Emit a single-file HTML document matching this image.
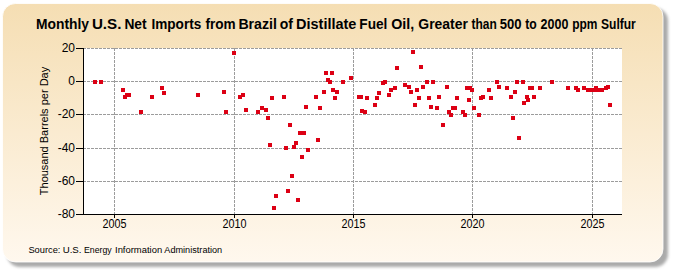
<!DOCTYPE html>
<html><head><meta charset="utf-8"><style>
html,body{margin:0;padding:0;width:675px;height:275px;overflow:hidden;background:#fff;}
svg{display:block;}
text{font-family:"Liberation Sans",sans-serif;fill:#000;}
</style></head><body>
<svg width="675" height="275" viewBox="0 0 675 275">
<defs>
<linearGradient id="bg" x1="0" y1="0" x2="0" y2="1">
<stop offset="0" stop-color="#f5deb3"/>
<stop offset="1" stop-color="#fff8ee"/>
</linearGradient>
<filter id="sh" x="-5%" y="-5%" width="115%" height="120%">
<feGaussianBlur stdDeviation="1.7"/>
</filter>
</defs>
<rect x="7" y="8" width="661" height="259" rx="13" ry="13" fill="#aaaaaa" filter="url(#sh)"/>
<rect x="2.5" y="3.5" width="660.5" height="258.5" rx="13" ry="13" fill="url(#bg)" stroke="rgba(255,255,255,0.8)" stroke-width="1"/>
<rect x="84" y="48" width="538" height="166" fill="#fff"/>
<g stroke="#9c9c9c" stroke-width="1" stroke-dasharray="3,1" fill="none"><g stroke-dashoffset="1"><line x1="84" y1="48.5" x2="622" y2="48.5"/><line x1="84" y1="81.5" x2="622" y2="81.5"/><line x1="84" y1="114.5" x2="622" y2="114.5"/><line x1="84" y1="148.5" x2="622" y2="148.5"/><line x1="84" y1="181.5" x2="622" y2="181.5"/></g><line x1="114.5" y1="48" x2="114.5" y2="214"/><line x1="234.5" y1="48" x2="234.5" y2="214"/><line x1="353.5" y1="48" x2="353.5" y2="214"/><line x1="472.5" y1="48" x2="472.5" y2="214"/><line x1="592.5" y1="48" x2="592.5" y2="214"/></g>
<g stroke="#000" stroke-width="1" fill="none">
<line x1="83.5" y1="48" x2="83.5" y2="215"/>
<line x1="83" y1="214.5" x2="622" y2="214.5"/>
<line x1="76" y1="48.5" x2="83" y2="48.5"/><line x1="76" y1="81.5" x2="83" y2="81.5"/><line x1="76" y1="114.5" x2="83" y2="114.5"/><line x1="76" y1="148.5" x2="83" y2="148.5"/><line x1="76" y1="181.5" x2="83" y2="181.5"/><line x1="76" y1="214.5" x2="83" y2="214.5"/><line x1="114.5" y1="214" x2="114.5" y2="218"/><line x1="234.5" y1="214" x2="234.5" y2="218"/><line x1="353.5" y1="214" x2="353.5" y2="218"/><line x1="472.5" y1="214" x2="472.5" y2="218"/><line x1="592.5" y1="214" x2="592.5" y2="218"/>
</g>
<g fill="#dc0014"><rect x="93" y="80" width="4" height="4"/><rect x="99" y="80" width="4" height="4"/><rect x="121" y="88" width="4" height="4"/><rect x="123" y="95" width="4" height="4"/><rect x="125" y="93" width="4" height="4"/><rect x="127" y="93" width="4" height="4"/><rect x="139" y="110" width="4" height="4"/><rect x="150" y="95" width="4" height="4"/><rect x="160" y="86" width="4" height="4"/><rect x="162" y="91" width="4" height="4"/><rect x="196" y="93" width="4" height="4"/><rect x="222" y="90" width="4" height="4"/><rect x="224" y="110" width="4" height="4"/><rect x="232" y="51" width="4" height="4"/><rect x="238" y="95" width="4" height="4"/><rect x="241" y="93" width="4" height="4"/><rect x="244" y="108" width="4" height="4"/><rect x="256" y="110" width="4" height="4"/><rect x="260" y="106" width="4" height="4"/><rect x="264" y="108" width="4" height="4"/><rect x="266" y="116" width="4" height="4"/><rect x="270" y="96" width="4" height="4"/><rect x="282" y="95" width="4" height="4"/><rect x="268" y="143" width="4" height="4"/><rect x="272" y="206" width="4" height="4"/><rect x="274" y="194" width="4" height="4"/><rect x="284" y="146" width="4" height="4"/><rect x="286" y="189" width="4" height="4"/><rect x="288" y="123" width="4" height="4"/><rect x="290" y="174" width="4" height="4"/><rect x="292" y="145" width="4" height="4"/><rect x="294" y="141" width="4" height="4"/><rect x="296" y="198" width="4" height="4"/><rect x="298" y="131" width="4" height="4"/><rect x="300" y="155" width="4" height="4"/><rect x="302" y="131" width="4" height="4"/><rect x="304" y="105" width="4" height="4"/><rect x="306" y="148" width="4" height="4"/><rect x="314" y="95" width="4" height="4"/><rect x="316" y="138" width="4" height="4"/><rect x="318" y="106" width="4" height="4"/><rect x="322" y="90" width="4" height="4"/><rect x="324" y="71" width="4" height="4"/><rect x="326" y="78" width="4" height="4"/><rect x="328" y="80" width="4" height="4"/><rect x="330" y="71" width="4" height="4"/><rect x="331" y="88" width="4" height="4"/><rect x="333" y="96" width="4" height="4"/><rect x="335" y="90" width="4" height="4"/><rect x="341" y="80" width="4" height="4"/><rect x="349" y="76" width="4" height="4"/><rect x="357" y="95" width="4" height="4"/><rect x="359" y="95" width="4" height="4"/><rect x="360" y="109" width="4" height="4"/><rect x="363" y="110" width="4" height="4"/><rect x="365" y="96" width="4" height="4"/><rect x="373" y="103" width="4" height="4"/><rect x="375" y="96" width="4" height="4"/><rect x="377" y="91" width="4" height="4"/><rect x="381" y="81" width="4" height="4"/><rect x="383" y="80" width="4" height="4"/><rect x="387" y="93" width="4" height="4"/><rect x="389" y="88" width="4" height="4"/><rect x="393" y="86" width="4" height="4"/><rect x="395" y="66" width="4" height="4"/><rect x="403" y="83" width="4" height="4"/><rect x="407" y="85" width="4" height="4"/><rect x="409" y="90" width="4" height="4"/><rect x="411" y="50" width="4" height="4"/><rect x="413" y="103" width="4" height="4"/><rect x="415" y="88" width="4" height="4"/><rect x="417" y="96" width="4" height="4"/><rect x="419" y="65" width="4" height="4"/><rect x="421" y="85" width="4" height="4"/><rect x="425" y="80" width="4" height="4"/><rect x="427" y="96" width="4" height="4"/><rect x="429" y="105" width="4" height="4"/><rect x="431" y="80" width="4" height="4"/><rect x="435" y="106" width="4" height="4"/><rect x="437" y="95" width="4" height="4"/><rect x="441" y="123" width="4" height="4"/><rect x="445" y="85" width="4" height="4"/><rect x="447" y="110" width="4" height="4"/><rect x="449" y="113" width="4" height="4"/><rect x="451" y="106" width="4" height="4"/><rect x="453" y="106" width="4" height="4"/><rect x="455" y="96" width="4" height="4"/><rect x="461" y="110" width="4" height="4"/><rect x="463" y="113" width="4" height="4"/><rect x="465" y="86" width="4" height="4"/><rect x="467" y="98" width="4" height="4"/><rect x="468" y="86" width="4" height="4"/><rect x="470" y="88" width="4" height="4"/><rect x="472" y="106" width="4" height="4"/><rect x="477" y="113" width="4" height="4"/><rect x="479" y="96" width="4" height="4"/><rect x="481" y="95" width="4" height="4"/><rect x="487" y="88" width="4" height="4"/><rect x="489" y="96" width="4" height="4"/><rect x="495" y="80" width="4" height="4"/><rect x="497" y="85" width="4" height="4"/><rect x="505" y="86" width="4" height="4"/><rect x="509" y="95" width="4" height="4"/><rect x="511" y="116" width="4" height="4"/><rect x="513" y="90" width="4" height="4"/><rect x="515" y="80" width="4" height="4"/><rect x="517" y="136" width="4" height="4"/><rect x="521" y="80" width="4" height="4"/><rect x="522" y="101" width="4" height="4"/><rect x="525" y="95" width="4" height="4"/><rect x="526" y="98" width="4" height="4"/><rect x="528" y="86" width="4" height="4"/><rect x="530" y="86" width="4" height="4"/><rect x="532" y="95" width="4" height="4"/><rect x="538" y="86" width="4" height="4"/><rect x="550" y="80" width="4" height="4"/><rect x="566" y="86" width="4" height="4"/><rect x="574" y="86" width="4" height="4"/><rect x="576" y="88" width="4" height="4"/><rect x="582" y="86" width="4" height="4"/><rect x="586" y="88" width="4" height="4"/><rect x="588" y="88" width="4" height="4"/><rect x="590" y="88" width="4" height="4"/><rect x="592" y="88" width="4" height="4"/><rect x="594" y="86" width="4" height="4"/><rect x="596" y="88" width="4" height="4"/><rect x="598" y="88" width="4" height="4"/><rect x="600" y="88" width="4" height="4"/><rect x="604" y="86" width="4" height="4"/><rect x="606" y="85" width="4" height="4"/><rect x="608" y="103" width="4" height="4"/></g>
<g font-size="12"><text x="75" y="52.0" text-anchor="end">20</text><text x="75" y="85.0" text-anchor="end">0</text><text x="75" y="118.0" text-anchor="end">-20</text><text x="75" y="152.0" text-anchor="end">-40</text><text x="75" y="185.0" text-anchor="end">-60</text><text x="75" y="218.0" text-anchor="end">-80</text><text x="114.5" y="228" text-anchor="middle" textLength="24" lengthAdjust="spacingAndGlyphs">2005</text><text x="234.5" y="228" text-anchor="middle" textLength="24" lengthAdjust="spacingAndGlyphs">2010</text><text x="353.5" y="228" text-anchor="middle" textLength="24" lengthAdjust="spacingAndGlyphs">2015</text><text x="472.5" y="228" text-anchor="middle" textLength="24" lengthAdjust="spacingAndGlyphs">2020</text><text x="592.5" y="228" text-anchor="middle" textLength="24" lengthAdjust="spacingAndGlyphs">2025</text></g>
<text transform="translate(35.91,28.6) scale(0.9904,1)" font-size="14" font-weight="bold">Monthly</text><text transform="translate(91.92,28.6) scale(1.0840,1)" font-size="14" font-weight="bold">U.S.</text><text transform="translate(124.41,28.6) scale(0.9864,1)" font-size="14" font-weight="bold">Net</text><text transform="translate(151.43,28.6) scale(0.9720,1)" font-size="14" font-weight="bold">Imports</text><text transform="translate(205.40,28.6) scale(0.9733,1)" font-size="14" font-weight="bold">from</text><text transform="translate(238.39,28.6) scale(1.0111,1)" font-size="14" font-weight="bold">Brazil</text><text transform="translate(279.70,28.6) scale(1.0000,1)" font-size="14" font-weight="bold">of</text><text transform="translate(296.06,28.6) scale(1.0351,1)" font-size="14" font-weight="bold">Distillate</text><text transform="translate(359.33,28.6) scale(0.9741,1)" font-size="14" font-weight="bold">Fuel</text><text transform="translate(391.28,28.6) scale(1.0190,1)" font-size="14" font-weight="bold">Oil,</text><text transform="translate(418.30,28.6) scale(0.9980,1)" font-size="14" font-weight="bold">Greater</text><text transform="translate(471.50,28.6) scale(0.8552,1)" font-size="14" font-weight="bold">than</text><text transform="translate(499.66,28.6) scale(0.9364,1)" font-size="14" font-weight="bold">500</text><text transform="translate(525.30,28.6) scale(0.8692,1)" font-size="14" font-weight="bold">to</text><text transform="translate(540.60,28.6) scale(0.8935,1)" font-size="14" font-weight="bold">2000</text><text transform="translate(572.24,28.6) scale(0.8571,1)" font-size="14" font-weight="bold">ppm</text><text transform="translate(601.04,28.6) scale(0.8590,1)" font-size="14" font-weight="bold">Sulfur</text>
<text transform="translate(48,131) rotate(-90)" text-anchor="middle" font-size="11">Thousand Barrels per Day</text>
<text transform="translate(28.42,252.7) scale(0.9774,1)" font-size="9.5" font-weight="normal">Source:</text><text transform="translate(62.68,252.7) scale(1.0176,1)" font-size="9.5" font-weight="normal">U.S.</text><text transform="translate(83.98,252.7) scale(0.9207,1)" font-size="9.5" font-weight="normal">Energy</text><text transform="translate(115.01,252.7) scale(0.9935,1)" font-size="9.5" font-weight="normal">Information</text><text transform="translate(164.30,252.7) scale(0.9633,1)" font-size="9.5" font-weight="normal">Administration</text>
</svg>
</body></html>
